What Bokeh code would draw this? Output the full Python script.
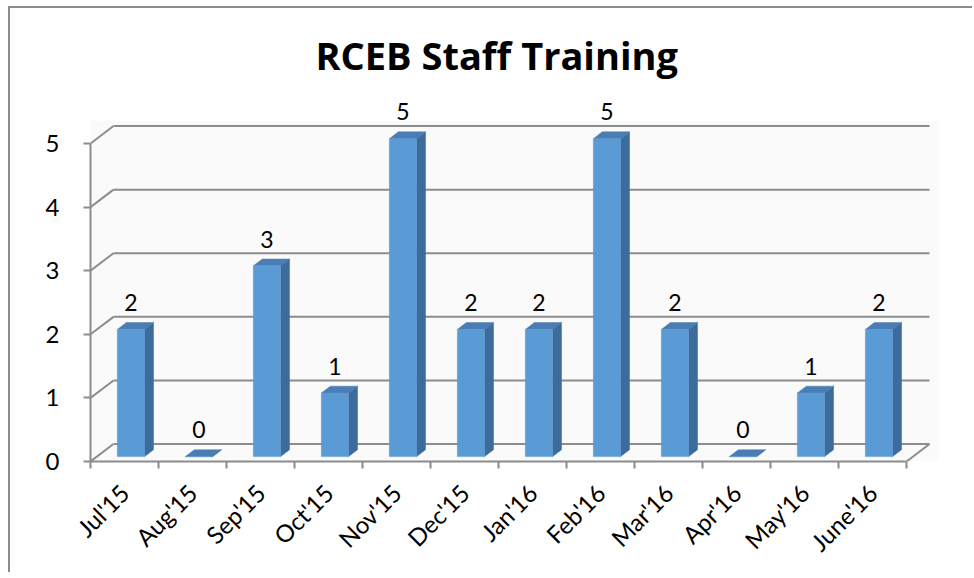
import math
import numpy as np
from bokeh.plotting import figure
from bokeh.models import FixedTicker, Range1d
from bokeh.core.properties import value
from bokeh.embed import file_html
from bokeh.resources import INLINE

# ---- data ----
months = ["Jul'15", "Aug'15", "Sep'15", "Oct'15", "Nov'15", "Dec'15",
          "Jan'16", "Feb'16", "Mar'16", "Apr'16", "May'16", "June'16"]
trainings = [2, 0, 3, 1, 5, 2, 2, 5, 2, 0, 1, 2]
y_ticks = [0, 1, 2, 3, 4, 5]
title_text = "RCEB Staff Training"

# ---- pseudo-3D projection parameters (depth offset in data units) ----
DX, DY = 0.338, 0.275      # full depth of the plot box
BAR_W = 0.40               # bar width (category units)
F0, F1 = 0.28, 0.67        # bar front / back depth fractions

FONT = "Lato"
GRAY = "#8c8c8c"

n = len(months)
centers = np.arange(n) + 0.5
vals = np.array(trainings, dtype=float)

xl = centers - BAR_W / 2 + F0 * DX
xr = centers + BAR_W / 2 + F0 * DX
yb = F0 * DY
yt = vals + F0 * DY
ddx = (F1 - F0) * DX
ddy = (F1 - F0) * DY

side_xs = [[r, r + ddx, r + ddx, r] for r in xr]
side_ys = [[yb, yb + ddy, t + ddy, t] for t in yt]
top_xs = [[l, l + ddx, r + ddx, r] for l, r in zip(xl, xr)]
top_ys = [[t, t + ddy, t + ddy, t] for t in yt]

W, H = 964, 566
p = figure(width=W, height=H, output_backend="svg", toolbar_location=None,
           x_range=Range1d(0, 12.47), y_range=Range1d(0, 5.74),
           min_border_left=80, min_border_right=36,
           min_border_top=88, min_border_bottom=113)
p.styles = {"margin-left": "8px", "margin-top": "6px",
            "border-left": f"2px solid {GRAY}", "border-top": f"2px solid {GRAY}"}
p.outline_line_color = None
p.background_fill_color = "white"
p.border_fill_color = "white"
p.grid.visible = False

# title
p.title.text = title_text
p.title.align = "left"
p.title.text_font = "Open Sans"
p.title.text_font_size = "38px"
p.title.text_font_style = "bold"
p.title.text_color = "black"
p.title.offset = 225
p.title.standoff = 31

# faint plot-area wall
p.quad(left=[0], right=[12.47], bottom=[0], top=[5.36], fill_color="#fafafa", line_color=None)

# back-wall gridlines and side-wall diagonals
ks = np.array(y_ticks, dtype=float)
p.segment(x0=np.full(len(ks), DX), y0=ks + DY, x1=np.full(len(ks), n + DX), y1=ks + DY,
          line_color=GRAY, line_width=2)
p.segment(x0=np.zeros(len(ks)), y0=ks, x1=np.full(len(ks), DX), y1=ks + DY,
          line_color=GRAY, line_width=2)
# floor right edge
p.segment(x0=[n], y0=[0], x1=[n + DX], y1=[DY], line_color=GRAY, line_width=2)

# bars
p.patches(side_xs, side_ys, fill_color="#3d6b9b", line_color="#3d6b9b", line_width=0.5)
p.patches(top_xs, top_ys, fill_color="#4a7db3", line_color="#4a7db3", line_width=0.5)
p.vbar(x=centers + F0 * DX, width=BAR_W, bottom=yb, top=yt,
       fill_color="#5b9bd5", line_color="#5b9bd5", line_width=0.5)

# data labels
p.text(x=centers + F0 * DX, y=yt + 0.42, text=[str(v) for v in trainings],
       text_align="center", text_baseline="alphabetic",
       text_font=value(FONT), text_font_size="23px", text_color="black")

# axes
ya = p.yaxis[0]
ya.ticker = FixedTicker(ticks=y_ticks)
ya.bounds = (0, 5)
ya.axis_line_color = GRAY
ya.axis_line_width = 2
ya.major_tick_line_color = GRAY
ya.major_tick_line_width = 2
ya.major_tick_out = 7
ya.major_tick_in = 0
ya.minor_tick_line_color = None
ya.major_label_text_font = FONT
ya.major_label_text_font_size = "24px"
ya.major_label_text_color = "black"
ya.major_label_standoff = 24

xa = p.xaxis[0]
xa.ticker = FixedTicker(ticks=list(centers), minor_ticks=list(range(n + 1)))
xa.bounds = (0, n)
xa.axis_line_color = GRAY
xa.axis_line_width = 2
xa.major_tick_line_color = None
xa.major_tick_out = 0
xa.major_tick_in = 0
xa.minor_tick_line_color = GRAY
xa.minor_tick_line_width = 2
xa.minor_tick_out = 7
xa.minor_tick_in = 0
xa.major_label_overrides = {float(c): m for c, m in zip(centers, months)}
xa.major_label_orientation = math.pi / 4
xa.major_label_text_font = FONT
xa.major_label_text_font_size = "24px"
xa.major_label_text_color = "black"
xa.major_label_standoff = 20

open("out.html", "w").write(file_html(p, INLINE))
